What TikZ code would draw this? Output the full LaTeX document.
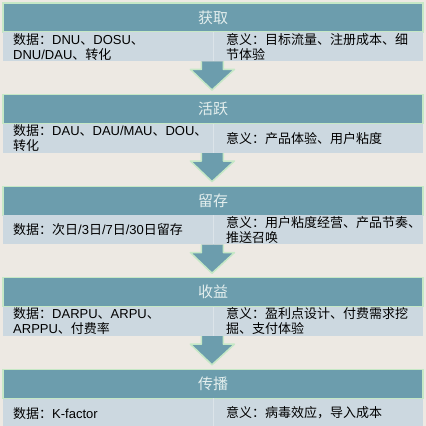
\documentclass[tikz,border=0pt]{standalone}
\usepackage{fontspec}
\setmainfont{Noto Sans CJK SC}
\newfontfamily\lat{Liberation Sans}
\usetikzlibrary{calc}
\definecolor{bgc}{HTML}{EDE9E3}
\definecolor{teal1}{HTML}{6C9DAD}
\definecolor{cellc}{HTML}{CCD8E0}
\definecolor{glow}{HTML}{C6E8C6}
\definecolor{hdrtxt}{HTML}{E4EFEE}
\definecolor{divc}{HTML}{DCE4E9}
\tikzset{
  hdr/.style={rectangle, minimum width=420pt, minimum height=29pt, inner sep=0pt,
    fill=teal1, draw=glow, line width=1.2pt, text=hdrtxt, font=\fontsize{15}{15}\selectfont},
  cell/.style={rectangle, minimum width=210pt, minimum height=29pt, inner sep=0pt, fill=cellc},
  txt/.style={anchor=west, align=left, inner sep=0pt, text=black, font=\fontsize{13}{15}\selectfont},
  blkfill/.style={fill=teal1},
  blkline/.style={draw=glow, line width=1.5pt, line join=round}
}
\newcommand\lt[1]{{\lat #1}}
\newcommand\mystage[5]{%
  \node[hdr] (h#1) at (213,#2+14.5) {#3};
  \node[cell, anchor=north west] (cl#1) at (3,#2+29) {};
  \node[cell, anchor=north west] (cr#1) at (213,#2+29) {};
  \draw[divc, line width=1pt] (cr#1.north west) -- (cr#1.south west);
  \node[txt] (tl#1) at ($(cl#1.west)+(10pt,0pt)$) {#4};
  \node[txt] (tr#1) at ($(cr#1.west)+(13pt,0pt)$) {#5};
}
\newcommand\myarrow[2]{%
  \fill[blkfill] ($(cl#1.south east)+(-12pt,0pt)$) -- ($(cl#1.south east)+(-12pt,-8pt)$)
    -- ($(cl#1.south east)+(-23pt,-8pt)$) -- ($(h#2.north)+(-1pt,4pt)$)
    -- ($(cl#1.south east)+(21pt,-8pt)$) -- ($(cl#1.south east)+(10pt,-8pt)$)
    -- ($(cl#1.south east)+(10pt,0pt)$) -- cycle;
  \draw[blkline] ($(cl#1.south east)+(-12pt,0pt)$) -- ($(cl#1.south east)+(-12pt,-8pt)$)
    -- ($(cl#1.south east)+(-23pt,-8pt)$) -- ($(h#2.north)+(-1pt,4pt)$)
    -- ($(cl#1.south east)+(21pt,-8pt)$) -- ($(cl#1.south east)+(10pt,-8pt)$)
    -- ($(cl#1.south east)+(10pt,0pt)$);
}
\begin{document}
\begin{tikzpicture}[x=1pt,y=-1pt]
\useasboundingbox (0,0) rectangle (426,426);
\fill[bgc] (0,0) rectangle (426,426);
\mystage{1}{3}{获取}{数据：\lt{DNU}、\lt{DOSU}、\\\lt{DNU/DAU}、转化}{意义：目标流量、注册成本、细\\节体验}
\mystage{2}{94.6}{活跃}{数据：\lt{DAU}、\lt{DAU/MAU}、\lt{DOU}、\\转化}{意义：产品体验、用户粘度}
\mystage{3}{186.2}{留存}{数据：次日\lt{/3}日\lt{/7}日\lt{/30}日留存}{意义：用户粘度经营、产品节奏、\\推送召唤}
\mystage{4}{277.8}{收益}{数据：\lt{DARPU}、\lt{ARPU}、\\\lt{ARPPU}、付费率}{意义：盈利点设计、付费需求挖\\掘、支付体验}
\mystage{5}{369.4}{传播}{数据：\lt{K-factor}}{意义：病毒效应，导入成本}
\myarrow{1}{2}
\myarrow{2}{3}
\myarrow{3}{4}
\myarrow{4}{5}
\end{tikzpicture}
\end{document}
